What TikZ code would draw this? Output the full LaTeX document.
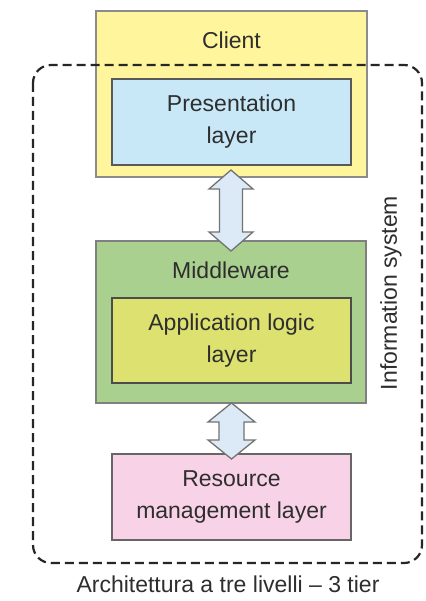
\documentclass[tikz,border=0pt]{standalone}
\usepackage{fontspec}
\setmainfont{Liberation Sans}

\definecolor{txt}{HTML}{2E2E2E}
\definecolor{clientfill}{HTML}{FFF59C}
\definecolor{presfill}{HTML}{C8E8F8}
\definecolor{midfill}{HTML}{A9D08F}
\definecolor{appfill}{HTML}{DCE170}
\definecolor{resfill}{HTML}{F8D3E7}
\definecolor{arrowfill}{HTML}{DCEAF8}

\tikzset{
  layerbox/.style={draw=#1, line width=1.7pt, inner sep=0pt, outer sep=0pt},
  lbl/.style={text=txt, font=\fontsize{23}{32}\selectfont, align=center, inner sep=0pt},
  bigarrow/.style={draw=black!55, line width=1.3pt, fill=arrowfill, line join=miter},
  sysframe/.style={draw=black!85, line width=2.2pt, dash pattern=on 9pt off 5pt, rounded corners=18pt}
}

\begin{document}
\begin{tikzpicture}[x=1pt, y=-1pt]
  \useasboundingbox[fill=white] (0,0) rectangle (425,601);

  % Client tier
  \node[layerbox=black!45, fill=clientfill, minimum width=271pt, minimum height=166pt] (client) at (231.5,94) {};
  \node[lbl] (clientlbl) at (231.5,40) {Client};
  \node[layerbox=black!65, fill=presfill, minimum width=239pt, minimum height=86pt] (pres) at (231.5,122) {};
  \node[lbl] at (pres.center) {Presentation\\layer};

  % Middleware tier
  \node[layerbox=black!50, fill=midfill, minimum width=270pt, minimum height=162pt] (mid) at (231,322) {};
  \node[lbl] (midlbl) at (231,270) {Middleware};
  \node[layerbox=black!70, fill=appfill, minimum width=239pt, minimum height=85pt] (app) at (231.5,340.5) {};
  \node[lbl] at (app.center) {Application logic\\layer};

  % Resource tier
  \node[layerbox=black!60, fill=resfill, minimum width=239pt, minimum height=86pt] (res) at (231.5,497) {};
  \node[lbl] at (res.center) {Resource\\management layer};

  % Double arrows between tiers
  \draw[bigarrow]
    (231,170) -- (253,189) -- (242.5,189) -- (242.5,232) -- (253,232) -- (231,251)
    -- (209,232) -- (219.5,232) -- (219.5,189) -- (209,189) -- cycle;
  \draw[bigarrow]
    (231.5,403) -- (255,422) -- (244,422) -- (244,440) -- (255,440) -- (231.5,459)
    -- (208,440) -- (219,440) -- (219,422) -- (208,422) -- cycle;

  % Information system boundary
  \draw[sysframe] (33,65) rectangle (422,563);
  \node[lbl, rotate=90] (infolbl) at (391,293) {Information system};

  % Caption
  \node[lbl] (caption) at (228,584) {Architettura a tre livelli -- 3 tier};
\end{tikzpicture}
\end{document}
